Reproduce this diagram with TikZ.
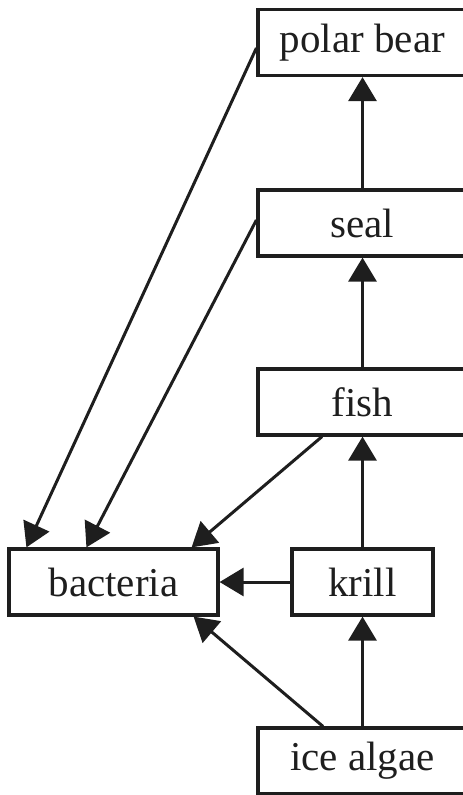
\documentclass[tikz,border=0pt]{standalone}
\usepackage{fontspec}
\setmainfont{Liberation Serif}
\usetikzlibrary{arrows.meta}
\definecolor{ink}{HTML}{1E1E1E}
\begin{document}
\begin{tikzpicture}[x=1pt,y=1pt,
  box/.style={draw=ink, line width=3.2pt, rectangle, inner sep=0pt,
    minimum height=66pt, text=ink,
    font=\fontsize{41}{48}\selectfont},
  wide/.style={minimum width=209pt},
  feed/.style={draw=ink, line width=3pt,
    -{Triangle[length=24pt,width=28pt]}}]
  \useasboundingbox (0,0) rectangle (463,-795);
  \clip (0,0) rectangle (463,-795);

  % organisms
  \node[box,wide] (pb)    at (362.5,-42.5) {polar bear};
  \node[box,wide] (seal)  at (362.5,-223)  {seal};
  \node[box,wide] (fish)  at (362.5,-402)  {fish};
  \node[box,wide] (bac)   at (113.5,-582)  {bacteria};
  \node[box,minimum width=141pt] (krill) at (362.5,-582) {krill};
  \node[box,wide] (ice)   at (362.5,-761)  {ice algae};

  % food chain upwards
  \draw[feed] (ice.north)   -- (krill.south);
  \draw[feed] (krill.north) -- (fish.south);
  \draw[feed] (fish.north)  -- (seal.south);
  \draw[feed] (seal.north)  -- (pb.south);

  % decomposition by bacteria
  \draw[feed] (krill.west) -- (bac.east);
  \draw[feed] ([xshift=-39.5pt]ice.north) -- ([xshift=-26pt]bac.south east);
  \draw[feed] ([xshift=-40.5pt]fish.south) -- ([xshift=-28pt]bac.north east);
  \draw[feed] ([yshift=3pt]seal.west) -- ([xshift=79pt]bac.north west);
  \draw[feed] ([yshift=-5.5pt]pb.west) -- ([xshift=19pt]bac.north west);
\end{tikzpicture}
\end{document}
